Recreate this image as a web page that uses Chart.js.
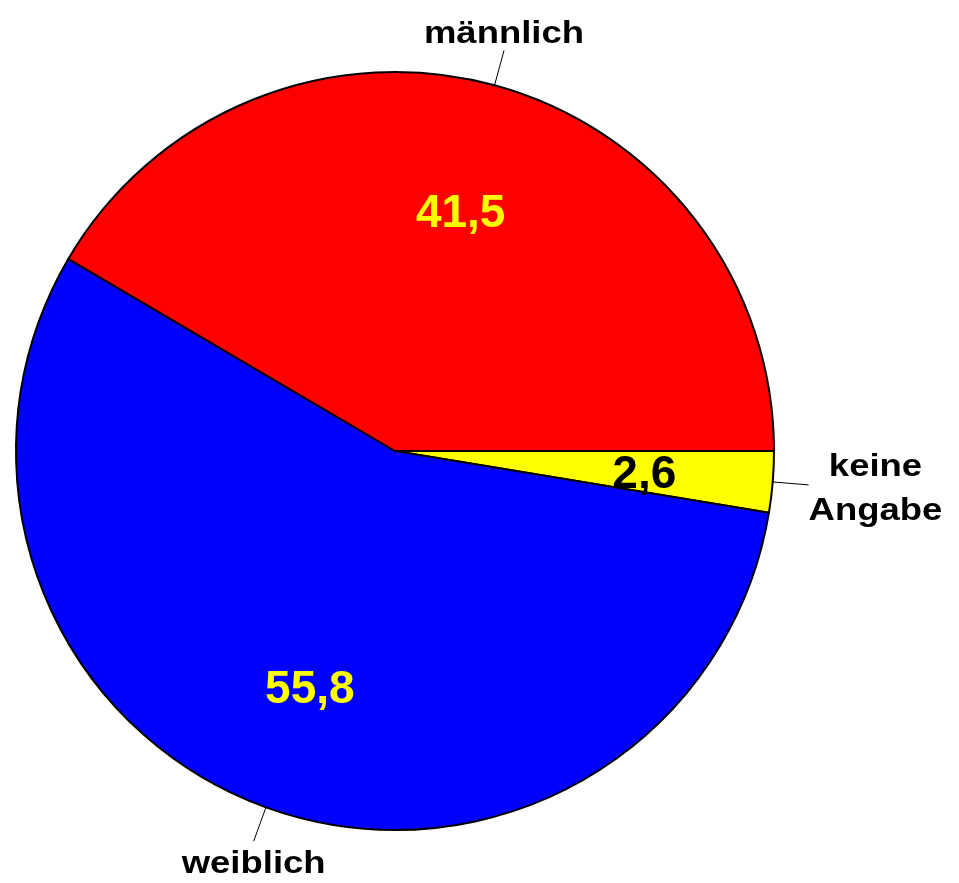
<!DOCTYPE html>
<html>
<head>
<meta charset="utf-8">
<script src="https://cdn.jsdelivr.net/npm/chart.js@4.4.1/dist/chart.umd.min.js"></script>
<style>
  html, body { margin: 0; padding: 0; background: #fff; }
  canvas { display: block; }
</style>
</head>
<body>
<canvas id="chart" width="959" height="883"></canvas>
<script>
// Daten (im Uhrzeigersinn ab 3 Uhr)
const categories = ["keine Angabe", "weiblich", "männlich"];
const values = [2.6, 55.8, 41.5];
const valueLabels = ["2,6", "55,8", "41,5"];
const sliceColors = ["#ffff00", "#0000ff", "#ff0000"];
const valueColors = ["#000000", "#ffff00", "#ffff00"];

const FONT = '"Liberation Sans", Arial, sans-serif';

// Text mit optionaler horizontaler Streckung zeichnen
function drawStretched(ctx, text, x, y, size, stretch, color) {
    ctx.save();
    ctx.font = "bold " + size + "px " + FONT;
    ctx.fillStyle = color;
    ctx.textAlign = "center";
    ctx.textBaseline = "alphabetic";
    ctx.translate(x, y);
    ctx.scale(stretch, 1);
    ctx.fillText(text, 0, 0);
    ctx.restore();
}

function textWidth(ctx, text, size, stretch) {
    ctx.save();
    ctx.font = "bold " + size + "px " + FONT;
    const w = ctx.measureText(text).width * stretch;
    ctx.restore();
    return w;
}

const labelPlugin = {
    id: "pieLabels",
    afterDraw(chart) {
        const ctx = chart.ctx;
        const arcs = chart.getDatasetMeta(0).data;
        arcs.forEach((arc, i) => {
            const mid = (arc.startAngle + arc.endAngle) / 2;
            const R = arc.outerRadius;
            const cos = Math.cos(mid), sin = Math.sin(mid);

            // Wert im Segment
            const vx = arc.x + cos * R * 0.66;
            const vy = arc.y + sin * R * 0.66;
            drawStretched(ctx, valueLabels[i], vx, vy + 17, 46, 1, valueColors[i]);

            // Hinweislinie
            const x1 = arc.x + cos * R, y1 = arc.y + sin * R;
            const x2 = arc.x + cos * R * 1.095, y2 = arc.y + sin * R * 1.095;
            ctx.save();
            ctx.strokeStyle = "#000";
            ctx.lineWidth = 1;
            ctx.beginPath();
            ctx.moveTo(x1, y1);
            ctx.lineTo(x2, y2);
            ctx.stroke();
            ctx.restore();

            // Kategorie außen
            const lines = categories[i].split(" ");
            const size = 32, stretch = 1.14, lh = 44;
            const bw = Math.max(...lines.map(l => textWidth(ctx, l, size, stretch)));
            let cx, top;
            if (Math.abs(sin) > 0.7) {
                cx = x2;
                top = sin < 0 ? y2 - 8 - (lines.length - 1) * lh - 23 : y2 + 9;
            } else {
                cx = cos > 0 ? x2 + bw / 2 : x2 - bw / 2;
                top = y2 - lh * lines.length / 2 + 12;
            }
            lines.forEach((l, k) => {
                drawStretched(ctx, l, cx, top + 23 + k * lh, size, stretch, "#000");
            });
        });
    }
};

new Chart(document.getElementById("chart"), {
    type: "pie",
    data: {
        labels: categories,
        datasets: [{
            data: values,
            backgroundColor: sliceColors,
            borderColor: "#000000",
            borderWidth: 2
        }]
    },
    options: {
        responsive: false,
        animation: false,
        rotation: 90,
        layout: { padding: { left: 15, right: 184, top: 71, bottom: 52 } },
        plugins: {
            legend: { display: false },
            tooltip: { enabled: false }
        }
    },
    plugins: [labelPlugin]
});
</script>
</body>
</html>
